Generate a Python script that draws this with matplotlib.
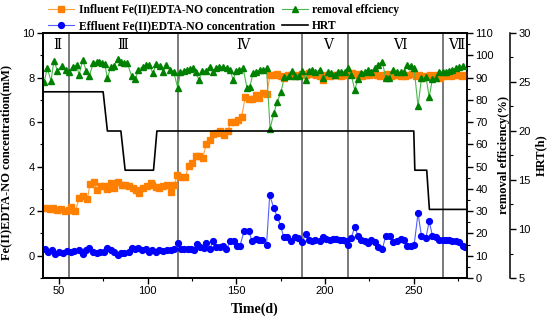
import numpy as np
import matplotlib
matplotlib.use("Agg")
import matplotlib.pyplot as plt
from matplotlib.ticker import MultipleLocator

# influent Fe(II)EDTA-NO (mM)
inf_day = [42.5, 44.7, 46.9, 49.1, 51.3, 53.5, 55.7, 57.0, 59.3, 61.4, 63.7, 66.0, 67.5, 69.7,
           71.2, 73.5, 75.4, 77.2, 79.3, 81.2, 83.5, 85.3, 87.2, 89.5, 91.5, 93.4, 95.3, 97.5,
           99.4, 101.7, 102.7, 104.6, 106.5, 108.9, 110.8, 113.0, 115.0, 116.5, 118.4, 121.2,
           123.1, 125.0, 127.0, 129.0, 131.0, 133.0, 135.0, 137.0, 139.0, 141.0, 143.0, 145.0,
           147.0, 149.0, 151.0, 153.0, 155.0, 157.0, 159.0, 161.0, 163.0, 165.0, 167.0, 169.0,
           171, 173, 175, 177, 179, 181, 183, 185, 187, 189, 191, 193, 195, 197, 199, 201, 203,
           205, 207, 209, 211, 213, 215, 217, 219, 221, 223, 225, 227, 229, 231, 233, 235, 237,
           239, 241, 243, 245, 247, 249, 251, 253, 255, 257, 259, 261, 263, 265, 267, 269, 271,
           273, 275, 277, 279]
inf_val = [2.14, 2.08, 2.14, 2.06, 2.12, 2.03, 2.05, 2.21, 2.03, 2.58, 2.66, 2.54, 3.23, 3.29,
           2.96, 3.11, 3.14, 2.99, 3.26, 3.03, 3.29, 3.18, 3.18, 3.11, 3.03, 2.93, 2.81, 3.03,
           3.11, 3.26, 3.18, 3.08, 3.03, 3.14, 3.18, 2.84, 3.18, 3.63, 3.52, 3.52,
           4.04, 4.16, 4.50, 4.50, 4.40, 5.00, 5.20, 5.45, 5.50, 5.60, 5.42, 5.60,
           6.00, 6.02, 6.10, 6.25, 7.14, 7.05, 7.05, 7.22, 7.10, 7.30, 7.25, 8.10,
           8.12, 8.15, 8.05, 8.00, 8.10, 8.12, 8.05, 8.10, 8.15, 8.10, 8.20, 8.15, 8.10, 8.05,
           7.90, 8.10, 8.05, 8.10, 8.12, 8.05, 8.10, 8.15, 8.20, 8.10, 8.15, 8.05, 8.10, 8.12,
           8.15, 8.10, 8.05, 8.10, 8.15, 8.05, 8.10, 8.12, 8.08, 8.05, 8.10, 8.15, 8.05, 8.10,
           8.00, 8.05, 8.10, 8.05, 8.10, 8.00, 8.05, 8.10, 8.05, 8.10, 8.12, 8.05, 8.10]

# effluent Fe(II)EDTA-NO (mM)
eff_day = [42.1, 44.0, 45.9, 47.7, 50.2, 52.4, 54.3, 56.6, 58.5, 61.3, 63.4, 65.3, 67.1, 69.4,
           71.3, 73.2, 75.4, 77.3, 79.2, 81.1, 83.0, 84.8, 86.7, 89.2, 91.1, 92.9, 94.8, 96.7,
           99.0, 100.8, 102.7, 104.6, 106.5, 108.9, 110.8, 113.1, 115.0, 117.0, 118.7, 120.6,
           122.5, 124.4, 125.9, 127.8, 129.7, 131.5, 133.0, 134.9, 136.8, 138.7, 140.6, 142.5,
           144.4, 146.6, 148.5, 150.4, 151.9, 154.5, 157.0, 158.9, 160.8, 162.6, 164.5, 167.0,
           168.8, 171.1, 173.0, 174.9, 176.7, 178.6, 180.9, 182.8, 184.6, 187.1, 189.0, 190.9,
           192.7, 194.6, 196.9, 198.8, 200.6, 202.5, 204.4, 206.3, 208.2, 210.1, 211.9, 212.9,
           214.8, 216.7, 218.5, 220.4, 222.3, 224.2, 226.1, 228.0, 229.8, 232.3, 234.2, 236.6,
           238.5, 240.4, 242.6, 244.5, 246.4, 248.3, 250.2, 252.4, 254.3, 256.8, 258.7, 260.5,
           262.4, 264.3, 266.2, 268.1, 269.9, 271.8, 273.7, 275.6, 277.5, 278.8]
eff_val = [0.30, 0.15, 0.27, 0.09, 0.15, 0.12, 0.19, 0.15, 0.19, 0.27, 0.09, 0.24, 0.34, 0.15,
           0.12, 0.15, 0.15, 0.34, 0.24, 0.15, 0.04, 0.12, 0.12, 0.15, 0.34, 0.30, 0.34, 0.24,
           0.30, 0.15, 0.24, 0.15, 0.24, 0.19, 0.24, 0.27, 0.30, 0.57, 0.30, 0.30,
           0.30, 0.30, 0.27, 0.54, 0.39, 0.34, 0.57, 0.30, 0.64, 0.39, 0.39, 0.42,
           0.30, 0.64, 0.64, 0.45, 0.42, 1.13, 1.09, 0.64, 0.75, 0.72, 0.72, 0.49,
           2.73, 2.13, 1.76, 1.35, 0.82, 0.86, 0.64, 0.84, 0.79, 0.60, 0.99, 0.69,
           0.64, 0.69, 0.64, 0.86, 0.76, 0.72, 0.76, 0.75, 0.72, 0.69, 0.64, 0.49,
           0.79, 1.31, 0.90, 0.72, 0.64, 0.57, 0.69, 0.60, 0.39, 0.30, 0.90, 0.90,
           0.60, 0.64, 0.75, 0.69, 0.42, 0.42, 0.49, 1.91, 0.90, 0.79, 1.54, 0.90,
           0.84, 0.72, 0.69, 0.69, 0.69, 0.64, 0.64, 0.60, 0.45, 0.39]

# removal efficiency (%)
rem_day = [41.7, 43.4, 45.5, 47.2, 49.1, 51.5, 53.8, 55.6, 57.7, 60.0, 61.3, 63.4, 65.3, 67.1,
           69.4, 71.3, 72.8, 74.3, 75.8, 77.3, 79.2, 80.9, 83.0, 84.8, 86.7, 88.6, 90.9, 92.9,
           94.8, 97.1, 99.0, 101.0, 102.9, 104.8, 106.7, 108.9, 110.5, 112.7, 114.6, 117.0,
           118.5, 120.4, 122.1, 123.6, 125.5, 127.0, 128.9, 130.8, 132.7, 134.9, 136.8, 138.7,
           140.2, 142.5, 144.7, 146.6, 148.1, 150.0, 151.5, 153.8, 156.0, 157.5, 159.4, 161.3,
           163.2, 165.0, 167.0, 169.0,
           171.1, 173.0, 175.2, 177.1, 179.6, 181.4, 183.3, 185.2, 187.1, 189.0, 190.9, 192.7,
           194.6, 196.9, 198.8, 201.6, 203.5, 205.4, 207.2, 209.1, 211.0, 212.9, 214.8, 216.7,
           218.5, 220.4, 222.3, 224.2, 226.1, 228.0, 229.8, 232.3, 234.2, 236.1, 238.5, 240.4,
           242.6, 244.5, 246.4, 248.3, 250.2, 252.4, 254.3, 256.8, 258.7, 260.5, 262.4, 264.3,
           266.2, 268.1, 269.9, 271.8, 273.7, 275.6, 277.5]
rem_val = [88.2, 94.2, 88.6, 97.6, 93.1, 95.2, 93.4, 92.6, 94.9, 95.5, 91.2, 97.9, 93.1, 90.7,
           96.7, 96.9, 97.0, 96.4, 96.1, 89.6, 94.9, 95.3, 98.2, 97.1, 96.7, 96.4, 90.7, 89.2,
           93.4, 94.9, 95.5, 95.6, 91.9, 95.9, 95.2, 92.6, 95.6, 93.4, 92.6, 85.2,
           92.6, 92.9, 93.4, 93.7, 94.2, 92.6, 88.9, 92.8, 93.1, 94.9, 92.6, 94.2,
           94.9, 94.9, 94.2, 93.4, 88.9, 93.1, 93.4, 94.2, 85.2, 85.6, 91.9, 92.6,
           93.4, 93.4, 94.2, 67.0,
           74.0, 79.0, 83.7, 90.4, 90.7, 93.0, 90.7, 90.7, 93.0, 89.0, 93.0, 93.5,
           92.3, 93.5, 89.6, 92.3, 92.0, 91.2, 92.3, 92.6, 92.6, 94.2, 91.2, 84.4,
           89.2, 92.0, 92.6, 93.4, 92.3, 94.2, 95.6, 97.1, 89.6, 89.6, 93.4, 92.6,
           92.3, 92.6, 95.6, 95.3, 94.2, 77.0, 89.6, 90.4, 81.4, 89.2, 89.6, 92.6,
           92.6, 92.6, 93.0, 93.4, 94.2, 94.9, 95.2]

# HRT (h)
hrt_day = [41, 74.9, 77.3, 84.9, 87.3, 103.3, 105.2, 250.0, 250.6, 257.3, 258.8, 280]
hrt_val = [24, 24, 20, 20, 16, 16, 20, 20, 16, 16, 12, 12]

phase_bounds = [55.6, 117.2, 187.2, 213.1, 266.2]
phase_names = ["Ⅱ", "Ⅲ", "Ⅳ", "Ⅴ", "Ⅵ", "Ⅶ"]
phase_x = [49, 86, 153.5, 201.5, 242, 273.7]

serif = ["Liberation Serif", "DejaVu Serif", "Noto Sans CJK SC"]
plt.rcParams["font.family"] = ["Liberation Sans", "DejaVu Sans"]
plt.rcParams["font.size"] = 8

fig = plt.figure(figsize=(5.5, 3.23), dpi=100)
ax = fig.add_axes([43 / 550, 1 - 278 / 323, 424 / 550, 245 / 323])
ax2 = ax.twinx()
ax3 = ax.twinx()
ax3.spines["right"].set_position(("outward", 31))

for b in phase_bounds:
    ax.axvline(b, color="#555555", lw=1.1, zorder=1)
for name, px in zip(phase_names, phase_x):
    ax.text(px, 9.45, name, ha="center", va="center", fontsize=10, family=serif)

l_inf, = ax.plot(inf_day, inf_val, color="#FFA040", lw=0.8, marker="s", ms=3.8,
                 mfc="#FF8000", mec="#FF8000", zorder=3)
l_eff, = ax.plot(eff_day, eff_val, color="#5060FF", lw=0.8, marker="o", ms=4.2,
                 mfc="#0000FF", mec="#0000FF", zorder=3)
l_rem, = ax2.plot(rem_day, rem_val, color="#4CB84C", lw=0.8, marker="^", ms=4.6,
                  mfc="#008000", mec="#008000", zorder=4)
l_hrt, = ax3.plot(hrt_day, hrt_val, color="black", lw=1.2)

ax.set_xlim(41, 280)
ax.set_ylim(-1, 10)
ax2.set_ylim(0, 110)
ax3.set_ylim(5, 30)

ax.xaxis.set_major_locator(MultipleLocator(50))
ax.xaxis.set_minor_locator(MultipleLocator(25))
ax.yaxis.set_major_locator(MultipleLocator(2))
ax.yaxis.set_minor_locator(MultipleLocator(1))
ax2.yaxis.set_major_locator(MultipleLocator(10))
ax2.yaxis.set_minor_locator(MultipleLocator(5))
ax3.yaxis.set_major_locator(MultipleLocator(5))
ax3.yaxis.set_minor_locator(MultipleLocator(2.5))

for a in (ax, ax2, ax3):
    a.tick_params(which="major", direction="out", length=4, width=1, labelsize=8, pad=2)
    a.tick_params(which="minor", direction="out", length=2.5, width=0.8)
    for s in a.spines.values():
        s.set_linewidth(1.1)

ax.set_xlabel("Time(d)", family=serif, fontweight="bold", fontsize=10)
ax.xaxis.set_label_coords(0.5, -0.1)
ax.set_ylabel("Fe(II)EDTA-NO concentration(mM)", family=serif, fontweight="bold", fontsize=9)
ax.yaxis.set_label_coords(-0.072, 0.47)
ax2.set_ylabel("removal efficiency(%)", family=serif, fontweight="bold", fontsize=9)
ax2.yaxis.set_label_coords(1.072, 0.5)
ax3.set_ylabel("HRT(h)", family=serif, fontweight="bold", fontsize=9)
ax3.yaxis.set_label_coords(1.16, 0.5)

fig.legend([l_inf, l_eff, l_rem, l_hrt],
           ["Influent Fe(II)EDTA-NO concentration", "Effluent Fe(II)EDTA-NO concentration",
            "removal effciency", "HRT"],
           loc="upper left", bbox_to_anchor=(0.075, 1.01), ncol=2, frameon=False,
           prop={"family": serif, "weight": "bold", "size": 8.4},
           handlelength=2.2, handletextpad=0.4, columnspacing=0.6, labelspacing=0.35,
           borderpad=0.1)

fig.savefig("out.png", dpi=100)
